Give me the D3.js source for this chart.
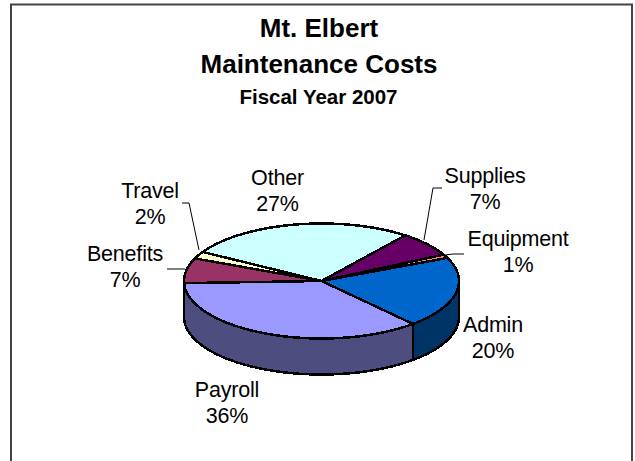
<!DOCTYPE html>
<html>
<head>
<meta charset="utf-8">
<script src="https://cdn.jsdelivr.net/npm/d3@7"></script>
<style>
  html, body { margin: 0; padding: 0; background: #fff; }
  svg { display: block; }
  text { font-family: "Liberation Sans", Arial, sans-serif; fill: #000; text-anchor: middle; }
</style>
</head>
<body>
<div id="chart"></div>
<script>
// values as printed on the slices, clockwise from Supplies
var categories = ["Supplies", "Equipment", "Admin", "Payroll", "Benefits", "Travel", "Other"];
var percents = [7, 1, 20, 36, 7, 2, 27];
var topColors = ["#660066", "#FF8080", "#0066CC", "#9999FF", "#993366", "#FFFFCC", "#CCFFFF"];
var sideColors = ["#330033", "#804040", "#003366", "#4D4D80", "#4D1A33", "#808066", "#668080"];

var titleLines = ["Mt. Elbert", "Maintenance Costs"];
var subtitle = "Fiscal Year 2007";

var width = 635, height = 461;
var cx = 321.5, cy = 281, rx = 137.5, ry = 57.5, depth = 36;
var startDeg = 37.5;

var svg = d3.select("#chart").append("svg")
    .attr("width", width).attr("height", height);

// frame, runs off the bottom of the page
svg.append("rect").attr("x", 11).attr("y", 4.5)
    .attr("width", 621).attr("height", 480)
    .attr("fill", "#fff").attr("stroke", "#444").attr("stroke-width", 2);

var pie = d3.pie().sort(null)
    .startAngle(startDeg * Math.PI / 180)
    .endAngle((startDeg + 360) * Math.PI / 180);
var arcs = pie(percents);

function ellipsePoint(a, dy) {
    return [cx + rx * Math.sin(a), cy - ry * Math.cos(a) + (dy || 0)];
}
function sample(a0, a1, dy) {
    var n = Math.max(2, Math.ceil(Math.abs(a1 - a0) * 40));
    return d3.range(n + 1).map(function(i) {
        return ellipsePoint(a0 + (a1 - a0) * i / n, dy);
    });
}
var line = d3.line();

// crispEdges gives the stepped outline the original has
var pieG = svg.append("g")
    .attr("stroke", "#000").attr("stroke-width", 2.5)
    .attr("stroke-linejoin", "round")
    .attr("shape-rendering", "crispEdges");

// side wall, only the front half shows
arcs.forEach(function(d, i) {
    [[d.startAngle, d.endAngle], [d.startAngle - 2 * Math.PI, d.endAngle - 2 * Math.PI]].forEach(function(r) {
        var a0 = Math.max(r[0], Math.PI / 2), a1 = Math.min(r[1], 3 * Math.PI / 2);
        if (a1 <= a0) return;
        var pts = sample(a0, a1, 0).concat(sample(a1, a0, depth));
        pieG.append("path").attr("d", line(pts) + "Z").attr("fill", sideColors[i]);
    });
});

// top slices
arcs.forEach(function(d, i) {
    var pts = [[cx, cy]].concat(sample(d.startAngle, d.endAngle, 0));
    pieG.append("path").attr("d", line(pts) + "Z").attr("fill", topColors[i]);
});

// titles
svg.append("text").attr("x", 319).attr("y", 37)
    .attr("font-size", 26).attr("font-weight", "bold").text(titleLines[0]);
svg.append("text").attr("x", 319).attr("y", 73)
    .attr("font-size", 26).attr("font-weight", "bold").text(titleLines[1]);
svg.append("text").attr("x", 318.5).attr("y", 104)
    .attr("font-size", 20.5).attr("font-weight", "bold").text(subtitle);

// labels, same order as categories
var labelX = [485, 518, 493, 227, 125, 150, 277.5];
var labelY = [183, 246, 332, 397, 261, 198, 185];
categories.forEach(function(c, i) {
    var t = svg.append("text").attr("font-size", 21.5).attr("letter-spacing", -0.2);
    t.append("tspan").attr("x", labelX[i]).attr("y", labelY[i]).text(c);
    t.append("tspan").attr("x", labelX[i]).attr("y", labelY[i] + 25.5).text(percents[i] + "%");
});

// leader lines
var leaders = [
    [[424, 240], [433, 188], [442, 188]],
    [[445, 255], [453, 254], [464, 254]],
    [[185, 269], [167, 269]],
    [[199, 250], [189, 203], [182, 203]]
];
leaders.forEach(function(l) {
    svg.append("path").attr("d", line(l)).attr("fill", "none")
        .attr("stroke", "#000").attr("stroke-width", 1);
});
</script>
</body>
</html>
